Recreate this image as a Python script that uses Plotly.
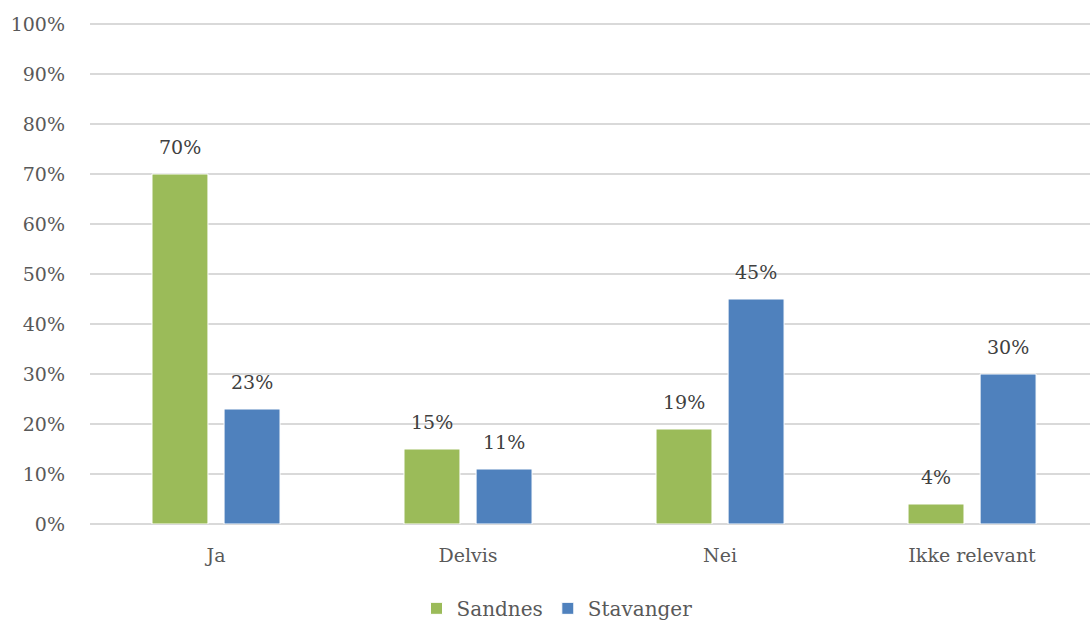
import plotly.graph_objects as go

categories = ["Ja", "Delvis", "Nei", "Ikke relevant"]
sandnes = [70, 15, 19, 4]
stavanger = [23, 11, 45, 30]
y_ticks = [0, 10, 20, 30, 40, 50, 60, 70, 80, 90, 100]
y_tick_labels = [f"{v}%" for v in y_ticks]

FONT = "DejaVu Serif"
BAR_W = 0.222
OFFSETS = {"Sandnes": -0.254, "Stavanger": 0.032}
LABEL_SHIFT = {"Sandnes": -36, "Stavanger": 36}

fig = go.Figure()
annotations = []
for name, values, color in [("Sandnes", sandnes, "#9BBB59"),
                            ("Stavanger", stavanger, "#4F81BD")]:
    fig.add_trace(go.Bar(
        name=name, x=categories, y=values,
        width=BAR_W, offset=OFFSETS[name],
        marker=dict(color=color, line=dict(color="white", width=1)),
    ))
    for cat, v in zip(categories, values):
        annotations.append(dict(
            x=cat, y=v, xref="x", yref="y", text=f"{v}%",
            showarrow=False, xanchor="center", yanchor="bottom",
            xshift=LABEL_SHIFT[name], yshift=14,
            font=dict(family=FONT, size=19, color="#404040"),
        ))

fig.update_layout(
    width=1090, height=620,
    margin=dict(l=90, r=0, t=22, b=96, autoexpand=False),
    paper_bgcolor="white", plot_bgcolor="white",
    barmode="overlay",
    font=dict(family=FONT, size=19, color="#595959"),
    annotations=annotations,
    showlegend=True,
    legend=dict(orientation="h", x=0.467, xanchor="center", y=-0.168, yanchor="middle",
                font=dict(family=FONT, size=20, color="#595959"),
                itemwidth=30, traceorder="normal"),
    xaxis=dict(
        type="category", range=[-0.5, 3.468],
        showgrid=False, showline=False, ticks="",
        ticklabelstandoff=18,
        tickfont=dict(family=FONT, size=19, color="#595959"),
    ),
    yaxis=dict(
        range=[0, 100.4], tickvals=y_ticks, ticktext=y_tick_labels,
        showgrid=True, gridcolor="#D9D9D9", gridwidth=1.5,
        zeroline=True, zerolinecolor="#D9D9D9", zerolinewidth=1.5,
        showline=False, ticks="", ticklabelstandoff=24,
        tickfont=dict(family=FONT, size=19, color="#595959"),
    ),
)

fig.write_html("out.html")
